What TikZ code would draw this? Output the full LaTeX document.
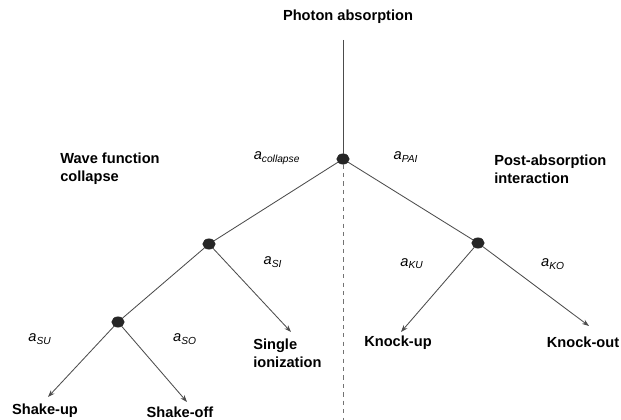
\documentclass[tikz,border=0pt]{standalone}
\usepackage{fontspec}
\setmainfont{Liberation Sans}
\usetikzlibrary{arrows.meta,shapes.geometric}

\newcommand{\prob}[1]{\textit{a}\textsubscript{\textit{#1}}}

\begin{document}
\begin{tikzpicture}[x=0.025cm, y=-0.025cm,
    branch/.style={draw=black!70, line width=0.6pt},
    outcome/.style={branch, -{Stealth[length=5pt,width=3.6pt]}},
    dot/.style={ellipse, draw=black!85, fill=black!85, inner sep=0pt,
        minimum width=0.31cm, minimum height=0.26cm},
    label/.style={font=\fontsize{10.4}{12.5}\selectfont\bfseries, inner sep=0pt},
    twoline/.style={label, align=left, anchor=west},
    amp/.style={font=\fontsize{10.4}{12}\selectfont, inner sep=0pt}]
    \useasboundingbox (0,0) rectangle (621,420);

    % branching points
    \node[dot] (absorb) at (343,159) {};
    \node[dot] (collapse) at (209,244) {};
    \node[dot] (pai) at (478,243) {};
    \node[dot] (su) at (118,322) {};

    \coordinate (top) at (343,40);
    \coordinate (bottom) at (343,420);
    \coordinate (si-end) at (291,332);
    \coordinate (ku-end) at (401,332);
    \coordinate (ko-end) at (589,326);
    \coordinate (su-end) at (48,397);
    \coordinate (so-end) at (187,402);

    % texts
    \node[label] (photon) at (348,17) {Photon absorption};
    \node[twoline] (wave) at (60,169) {Wave function\\collapse};
    \node[twoline] (post) at (494,169) {Post-absorption\\interaction};
    \node[twoline] (single) at (253,353) {Single\\ionization};
    \node[label] (knockup) at (398,343) {Knock-up};
    \node[label] (knockout) at (583,342) {Knock-out};
    \node[label] (shakeup) at (45,411) {Shake-up};
    \node[label] (shakeoff) at (180,412) {Shake-off};

    % amplitudes
    \node[amp] (a-col) at (277,158) {\prob{collapse}};
    \node[amp] (a-pai) at (406,157) {\prob{PAI}};
    \node[amp] (a-si) at (273,262) {\prob{SI}};
    \node[amp] (a-ku) at (412,264) {\prob{KU}};
    \node[amp] (a-ko) at (553,264) {\prob{KO}};
    \node[amp] (a-su) at (40,339) {\prob{SU}};
    \node[amp] (a-so) at (185,339) {\prob{SO}};

    % lines
    \draw[branch] (top) -- (absorb);
    \draw[branch, draw=black!55, dashed] (absorb) -- (bottom);
    \draw[branch] (absorb) -- (collapse);
    \draw[branch] (absorb) -- (pai);
    \draw[branch] (collapse) -- (su);
    \draw[outcome] (collapse) -- (si-end);
    \draw[outcome] (pai) -- (ku-end);
    \draw[outcome] (pai) -- (ko-end);
    \draw[outcome] (su) -- (su-end);
    \draw[outcome] (su) -- (so-end);
\end{tikzpicture}
\end{document}
